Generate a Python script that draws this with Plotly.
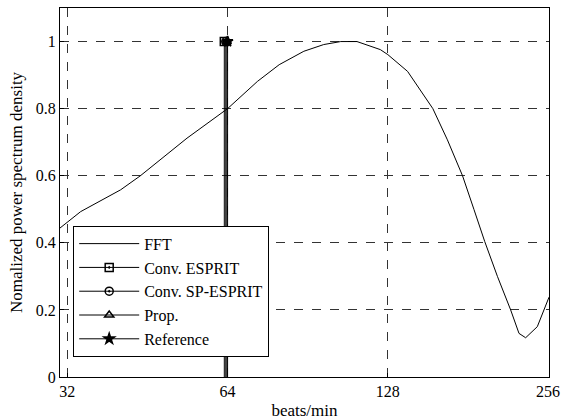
import plotly.graph_objects as go

# FFT spectrum (beats/min, normalized PSD)
fft_bpm = [31.0, 33.9, 40.3, 43.9, 53.7, 64.0, 72.8, 80.0, 89.0, 97.0, 104.4, 112.0,
           123.9, 128.0, 139.4, 155.5, 165.6, 176.8, 185.8, 194.6, 205.6, 217.7,
           225.7, 232.3, 244.3, 257.0]
fft_psd = [0.444, 0.493, 0.558, 0.600, 0.712, 0.800, 0.881, 0.931, 0.971, 0.991, 1.000, 1.000,
           0.976, 0.961, 0.911, 0.800, 0.707, 0.600, 0.499, 0.404, 0.300, 0.200,
           0.130, 0.117, 0.150, 0.238]

# Estimated heart rates (stems)
methods = ["Conv. ESPRIT", "Conv. SP-ESPRIT", "Prop.", "Reference"]
est_bpm = [63.1, 63.5, 63.8, 64.0]
est_psd = [1.0, 1.0, 1.0, 1.0]
symbols = ["square-open-dot", "circle-open-dot", "triangle-up-open", "star"]

x_ticks = [32, 64, 128, 256]
y_ticks = [0, 0.2, 0.4, 0.6, 0.8, 1]

FONT = "Liberation Serif, Times New Roman, serif"

fig = go.Figure()

fig.add_trace(go.Scatter(x=fft_bpm, y=fft_psd, mode="lines", name="FFT",
                         line=dict(color="black", width=1)))

# stems (no legend)
for b, p in zip(est_bpm, est_psd):
    fig.add_trace(go.Scatter(x=[b, b], y=[0, p], mode="lines", showlegend=False,
                             hoverinfo="skip", line=dict(color="black", width=1)))

# stem heads (with legend entries)
for m, b, p, s in zip(methods, est_bpm, est_psd, symbols):
    fig.add_trace(go.Scatter(x=[b], y=[p], mode="lines+markers", name=m,
                             line=dict(color="black", width=1),
                             marker=dict(symbol=s, size=8, color="black",
                                         line=dict(color="black", width=1.5))))

axis_common = dict(showline=True, linecolor="black", linewidth=1, mirror=True,
                   ticks="inside", ticklen=4, tickcolor="black",
                   showgrid=True, gridcolor="#333333", gridwidth=1, griddash="dash",
                   zeroline=False, automargin=False,
                   tickfont=dict(family=FONT, size=16, color="black"))

fig.update_xaxes(type="log", range=[1.4914, 2.4099], tickvals=x_ticks,
                 ticktext=[str(v) for v in x_ticks],
                 title=dict(text="beats/min", font=dict(family=FONT, size=17, color="black"),
                            standoff=4),
                 **axis_common)
fig.update_yaxes(range=[0, 1.1], tickvals=y_ticks,
                 ticktext=["0", "0.2", "0.4", "0.6", "0.8", "1"],
                 title=dict(text="Nomalized power spectrum density",
                            font=dict(family=FONT, size=17, color="black"), standoff=8),
                 **axis_common)

fig.update_layout(
    width=565, height=420,
    margin=dict(l=60, r=16, t=8, b=43),
    plot_bgcolor="white", paper_bgcolor="white",
    font=dict(family=FONT, color="black"),
    legend=dict(x=0.027, y=0.41, xanchor="left", yanchor="top",
                bgcolor="white", bordercolor="black", borderwidth=1,
                font=dict(family=FONT, size=16, color="black"),
                itemwidth=60, tracegroupgap=0),
    showlegend=True,
)

fig.write_html("out.html", config={"displayModeBar": False},
               post_script="document.body.style.margin='0';")
